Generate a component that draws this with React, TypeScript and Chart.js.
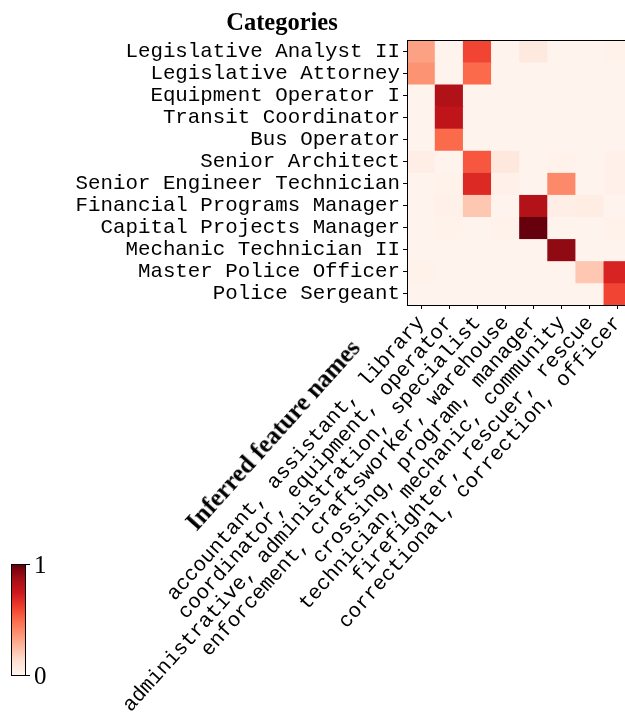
import React, { useEffect, useRef } from "react";
import { Chart, registerables } from "chart.js";

Chart.register(...registerables);

// Rows (job titles)
const categories = [
  "Legislative Analyst II",
  "Legislative Attorney",
  "Equipment Operator I",
  "Transit Coordinator",
  "Bus Operator",
  "Senior Architect",
  "Senior Engineer Technician",
  "Financial Programs Manager",
  "Capital Projects Manager",
  "Mechanic Technician II",
  "Master Police Officer",
  "Police Sergeant",
];

// Columns (inferred feature names)
const featureNames = [
  "accountant, assistant, library",
  "coordinator, equipment, operator",
  "administrative, administration, specialist",
  "enforcement, craftsworker, warehouse",
  "crossing, program, manager",
  "technician, mechanic, community",
  "firefighter, rescuer, rescue",
  "correctional, correction, officer",
];

// Normalised scores, one row per category, one value per feature column
const scores = [
  [0.33, 0.01, 0.6, 0.01, 0.07, 0.01, 0.01, 0.02],
  [0.37, 0.01, 0.5, 0.01, 0.01, 0.01, 0.01, 0.01],
  [0.01, 0.84, 0.01, 0.01, 0.01, 0.01, 0.01, 0.01],
  [0.01, 0.79, 0.01, 0.01, 0.01, 0.01, 0.01, 0.01],
  [0.01, 0.5, 0.01, 0.01, 0.01, 0.01, 0.01, 0.01],
  [0.04, 0.01, 0.55, 0.08, 0.01, 0.02, 0.01, 0.03],
  [0.01, 0.02, 0.69, 0.03, 0.01, 0.4, 0.01, 0.03],
  [0.01, 0.03, 0.21, 0.01, 0.83, 0.04, 0.05, 0.01],
  [0.01, 0.02, 0.01, 0.02, 1.0, 0.01, 0.01, 0.02],
  [0.01, 0.01, 0.01, 0.01, 0.01, 0.92, 0.01, 0.01],
  [0.02, 0.01, 0.01, 0.01, 0.01, 0.01, 0.21, 0.71],
  [0.01, 0.01, 0.01, 0.01, 0.01, 0.01, 0.01, 0.6],
];

const colorbarTicks = ["1", "0"];

const REDS = [
  "#fff5f0",
  "#fee0d2",
  "#fcbba1",
  "#fc9272",
  "#fb6a4a",
  "#ef3b2c",
  "#cb181d",
  "#a50f15",
  "#67000d",
];

function hexToRgb(h: string) {
  return [
    parseInt(h.slice(1, 3), 16),
    parseInt(h.slice(3, 5), 16),
    parseInt(h.slice(5, 7), 16),
  ];
}

function reds(v: number) {
  const x = Math.max(0, Math.min(1, v)) * (REDS.length - 1);
  const i = Math.min(REDS.length - 2, Math.floor(x));
  const t = x - i;
  const a = hexToRgb(REDS[i]);
  const b = hexToRgb(REDS[i + 1]);
  const c = a.map((av, k) => Math.round(av + (b[k] - av) * t));
  return `rgb(${c[0]},${c[1]},${c[2]})`;
}

const MONO = "'Liberation Mono', 'Courier New', monospace";
const SERIF = "'Liberation Serif', 'DejaVu Serif', serif";
const ROT = 48;

export default function App() {
  const ref = useRef<HTMLCanvasElement>(null);

  useEffect(() => {
    if (!ref.current) return;
    const frame = {
      id: "frame",
      afterDatasetsDraw(chart: any) {
        const { ctx, chartArea: a } = chart;
        ctx.save();
        ctx.strokeStyle = "#000";
        ctx.lineWidth = 1;
        ctx.strokeRect(
          Math.round(a.left) + 0.5,
          Math.round(a.top) + 0.5,
          Math.round(a.right - a.left),
          Math.round(a.bottom - a.top)
        );
        ctx.restore();
      },
    };

    const chart = new Chart(ref.current, {
      type: "bar",
      data: {
        labels: featureNames,
        datasets: categories.map((c, i) => ({
          label: c,
          data: featureNames.map(() => 1),
          backgroundColor: scores[i].map(reds),
          borderWidth: 0,
          barPercentage: 1,
          categoryPercentage: 1,
        })),
      },
      options: {
        responsive: false,
        animation: false,
        layout: { padding: { top: 40, right: 8, left: 0, bottom: 0 } },
        plugins: {
          legend: { display: false },
          tooltip: { enabled: false },
        },
        scales: {
          x: {
            stacked: true,
            grid: {
              offset: false,
              drawOnChartArea: false,
              drawTicks: true,
              tickLength: 4,
              color: "#000",
            },
            border: { display: true, color: "#000" },
            ticks: {
              autoSkip: false,
              minRotation: ROT,
              maxRotation: ROT,
              color: "#000",
              padding: 2,
              font: { family: MONO, size: 20.8 },
            },
            afterFit: (s: any) => {
              s.height = 420;
              s.paddingLeft = 0;
              s.paddingRight = 0;
            },
          },
          y: {
            type: "linear",
            stacked: true,
            reverse: true,
            min: 0,
            max: 12,
            grid: {
              drawOnChartArea: false,
              drawTicks: true,
              tickLength: 4,
              color: "#000",
            },
            border: { display: true, color: "#000" },
            afterBuildTicks: (s: any) => {
              s.ticks = categories.map((_, i) => ({ value: i + 0.5 }));
            },
            ticks: {
              autoSkip: false,
              color: "#000",
              padding: 3,
              font: { family: MONO, size: 20.8 },
              callback: (_v: any, i: number) => categories[i],
            },
            afterFit: (s: any) => {
              s.width = 407;
              s.paddingTop = 0;
              s.paddingBottom = 0;
            },
          },
        },
      },
      plugins: [frame],
    } as any);
    return () => chart.destroy();
  }, []);

  const gradient = `linear-gradient(to top, ${REDS.join(", ")})`;

  return (
    <div
      style={{
        position: "fixed",
        left: 0,
        top: 0,
        width: 625,
        height: 725,
        overflow: "hidden",
        background: "#fff",
      }}
    >
      <canvas
        ref={ref}
        width={640}
        height={725}
        style={{ position: "absolute", left: 0, top: 0 }}
      />
      <div
        style={{
          position: "absolute",
          left: 182,
          top: 7,
          width: 200,
          textAlign: "center",
          fontFamily: SERIF,
          fontWeight: "bold",
          fontSize: 24.5,
          lineHeight: "30px",
          color: "#000",
        }}
      >
        Categories
      </div>
      <div
        style={{
          position: "absolute",
          left: 273,
          top: 435,
          transform: `translate(-50%, -50%) rotate(-${ROT}deg)`,
          whiteSpace: "nowrap",
          fontFamily: SERIF,
          fontWeight: "bold",
          fontSize: 25,
          color: "#000",
        }}
      >
        Inferred feature names
      </div>
      {/* colour bar */}
      <div
        style={{
          position: "absolute",
          left: 11,
          top: 564,
          width: 13,
          height: 110,
          border: "1px solid #000",
          background: gradient,
        }}
      />
      <div style={{ position: "absolute", left: 25, top: 564, width: 5, height: 1, background: "#000" }} />
      <div style={{ position: "absolute", left: 25, top: 675, width: 5, height: 1, background: "#000" }} />
      {colorbarTicks.map((t, i) => (
        <div
          key={t}
          style={{
            position: "absolute",
            left: 34,
            top: i === 0 ? 550 : 661,
            fontFamily: SERIF,
            fontSize: 25,
            lineHeight: "30px",
            color: "#000",
          }}
        >
          {t}
        </div>
      ))}
    </div>
  );
}
